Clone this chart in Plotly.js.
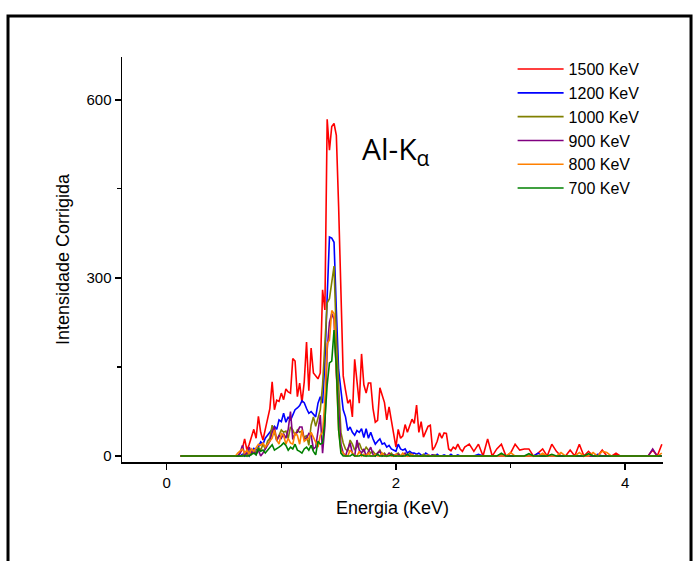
<!DOCTYPE html>
<html>
<head>
<meta charset="utf-8">
<script src="https://cdn.plot.ly/plotly-3.0.1.min.js"></script>
<style>html,body{margin:0;padding:0;background:#fff;}#chart{width:693px;height:561px;}</style>
</head>
<body>
<div id="chart"></div>
<script>
// Energy channels (KeV)
const energy = [0.12,
  0.60,0.62,0.64,0.66,0.68,0.70,0.72,0.74,0.76,0.78,
  0.80,0.82,0.84,0.86,0.88,0.90,0.92,0.94,0.96,0.98,
  1.00,1.02,1.04,1.06,1.08,1.10,1.12,1.14,1.16,1.18,
  1.20,1.22,1.24,1.26,1.28,1.30,1.32,1.34,1.36,1.38,
  1.40,1.42,1.44,1.46,1.48,1.50,1.52,1.54,1.56,1.58,
  1.60,1.62,1.64,1.66,1.68,1.70,1.72,1.74,1.76,1.78,
  1.80,1.82,1.84,1.86,1.88,1.90,1.92,1.94,1.96,1.98,
  2.00,2.02,2.04,2.06,2.08,2.10,2.12,2.14,2.16,2.18,
  2.20,2.22,2.24,2.26,2.28,2.30,2.32,2.34,2.36,2.38,
  2.40,2.42,2.44,2.46,2.48,2.50,2.52,2.54,2.56,2.58,
  2.60,
  2.64,2.68,2.72,2.76,2.80,2.84,2.88,2.92,2.96,3.00,
  3.04,3.08,3.12,3.16,3.20,3.24,3.28,3.32,3.36,3.40,
  3.44,3.48,3.52,3.56,3.60,3.64,3.68,3.72,3.76,3.80,
  3.84,3.88,3.92,3.96,4.00,4.04,4.08,4.12,4.16,4.20,
  4.24,4.28,4.32];

const seriesNames = ["1500 KeV","1200 KeV","1000 KeV","900 KeV","800 KeV","700 KeV"];
const seriesColors = ["#ff0000","#0000ff","#808000","#800080","#ff8000","#008000"];

const kev1500 = [0,
  0,0,5,12,29,10,20,35,45,30,
  67,40,27,45,66,80,125,78,94,92,
  106,95,113,108,106,164,160,100,123,90,
  125,192,110,182,140,135,130,140,280,246,
  567,515,555,560,540,420,250,135,111,89,
  95,66,163,120,89,172,120,106,123,123,
  80,57,60,115,100,90,61,83,60,39,
  15,45,30,34,53,40,50,62,55,86,
  40,58,32,40,50,52,10,16,25,39,
  30,39,38,12,9,15,12,20,12,8,
  15,
  20,8,20,0,29,0,12,20,0,5,
  20,10,12,12,0,5,12,0,20,8,
  0,0,10,0,20,0,8,0,0,10,
  0,0,5,0,0,0,0,0,0,0,
  10,0,20];

const kev1200 = [0,
  0,0,0,3,0,5,0,8,13,10,
  15,24,20,30,35,40,44,50,45,61,
  58,72,57,66,60,70,78,81,85,93,
  90,80,72,75,70,66,89,100,89,157,
  268,369,367,360,246,145,111,78,66,43,
  49,40,35,43,40,46,31,46,30,40,
  29,20,25,29,20,22,15,18,12,10,
  8,20,12,10,12,5,8,5,5,3,
  5,2,0,5,3,0,2,0,3,0,
  0,2,0,0,3,0,0,2,0,0,
  0,
  0,0,3,0,0,0,0,0,0,0,
  0,0,0,0,0,5,0,0,0,0,
  0,0,0,0,0,0,0,0,3,0,
  0,0,0,0,0,0,0,0,0,0,
  0,0,0];

const kev1000 = [0,
  0,0,0,0,5,0,8,3,10,5,
  15,10,20,12,25,30,52,38,27,35,
  44,40,42,30,49,44,35,44,40,42,
  30,35,18,52,66,50,64,78,120,190,
  258,265,292,320,200,106,40,22,12,8,
  27,20,10,15,22,12,8,15,10,5,
  8,3,5,10,2,5,0,3,5,0,
  2,5,0,0,3,0,5,0,0,2,
  0,0,3,0,0,0,0,2,0,0,
  0,0,0,0,0,0,0,0,0,0,
  0,
  0,0,0,0,0,0,0,3,0,0,
  0,0,0,0,0,0,0,0,0,0,
  0,0,0,0,0,0,0,0,0,0,
  0,0,0,0,0,0,0,0,0,0,
  0,0,0];

const kev900 = [0,
  0,0,5,18,3,5,15,5,8,3,
  10,0,5,12,20,25,40,49,25,35,
  30,38,30,45,75,28,38,40,49,49,
  28,30,38,35,12,15,42,69,5,50,
  179,225,240,230,140,80,20,5,0,12,
  22,5,0,27,10,5,12,0,8,15,
  3,0,5,8,0,3,0,5,0,2,
  0,3,0,0,5,0,0,3,0,0,
  0,0,0,0,0,0,2,0,0,0,
  0,0,0,0,0,0,0,0,0,0,
  0,
  0,0,0,0,0,0,0,0,0,0,
  0,0,0,0,0,0,0,0,0,0,
  0,0,0,0,0,0,0,0,0,0,
  0,0,0,0,0,0,0,0,0,0,
  12,0,0];

const kev800 = [0,
  0,5,8,12,5,10,3,12,8,15,
  20,18,22,15,20,25,30,44,27,20,
  38,35,20,30,22,20,38,35,20,44,
  25,28,30,40,32,25,15,35,40,94,
  190,195,245,240,128,44,10,5,0,0,
  10,5,0,0,8,0,3,0,5,0,
  0,3,0,0,5,0,0,2,0,0,
  3,0,0,5,0,0,0,3,0,0,
  0,0,0,0,2,0,0,0,0,0,
  0,0,0,0,0,0,0,0,0,0,
  0,
  0,0,0,0,0,0,0,0,0,6,
  0,0,0,0,0,0,5,0,0,0,
  6,0,0,0,6,0,0,6,0,8,
  6,0,0,0,0,0,0,0,0,0,
  0,0,5];

const kev700 = [0,
  0,0,0,0,0,0,0,3,5,2,
  12,8,10,5,10,15,19,10,12,15,
  18,22,18,10,15,12,20,10,8,5,
  12,15,10,18,8,2,25,20,22,60,
  120,157,160,212,150,44,5,0,0,0,
  0,3,0,0,0,2,0,0,0,0,
  0,0,3,0,0,0,0,0,2,0,
  0,0,0,0,0,3,0,0,0,0,
  0,0,0,0,0,0,0,0,0,0,
  0,0,0,0,0,0,0,0,0,0,
  0,
  0,0,0,0,0,0,0,5,0,0,
  0,0,0,4,0,0,0,0,3,0,
  0,0,0,0,0,0,4,0,0,0,
  0,0,0,0,0,0,0,0,0,0,
  0,0,0];

const seriesValues = [kev1500, kev1200, kev1000, kev900, kev800, kev700];

const traces = seriesValues.map((vals, i) => ({
  x: energy, y: vals, type: 'scatter', mode: 'lines',
  name: seriesNames[i],
  line: {color: seriesColors[i], width: 1.6}
}));

const font = {family: 'Liberation Sans, Arial, sans-serif', color: '#000'};

const layout = {
  width: 693, height: 561,
  margin: {l: 122, r: 30, t: 57, b: 99},
  paper_bgcolor: '#fff', plot_bgcolor: '#fff',
  showlegend: true,
  font: font,
  xaxis: {
    range: [-0.39, 4.33], showgrid: false, zeroline: false,
    showline: true, linecolor: '#000', linewidth: 1.5,
    ticks: 'outside', ticklen: 6, tickwidth: 1.5, tickcolor: '#000',
    tick0: 0, dtick: 2,
    minor: {ticks: 'outside', ticklen: 4, tickwidth: 1.2, tickcolor: '#000', dtick: 1},
    tickfont: {size: 15, family: font.family, color: '#000'},
    title: {text: 'Energia (KeV)', font: {size: 18, family: font.family, color: '#000'}, standoff: 12}
  },
  yaxis: {
    range: [-10, 672], showgrid: false, zeroline: false,
    showline: true, linecolor: '#000', linewidth: 1.5,
    ticks: 'outside', ticklen: 6, tickwidth: 1.5, tickcolor: '#000',
    tick0: 0, dtick: 300,
    minor: {ticks: 'outside', ticklen: 4, tickwidth: 1.2, tickcolor: '#000', dtick: 150},
    tickfont: {size: 15, family: font.family, color: '#000'},
    title: {text: 'Intensidade Corrigida', font: {size: 18, family: font.family, color: '#000'}, standoff: 12}
  },
  legend: {
    x: 0.722, xanchor: 'left', y: 1.012, yanchor: 'top',
    itemwidth: 46,
    bgcolor: 'rgba(0,0,0,0)', borderwidth: 0,
    font: {size: 16, family: font.family, color: '#000'}
  },
  annotations: [{
    xref: 'x', yref: 'y', x: 2.0, y: 516,
    text: 'Al-K<sub>α</sub>', showarrow: false,
    font: {size: 30, family: 'Open Sans, Noto Sans, sans-serif', color: '#000'}
  }],
  shapes: [{
    type: 'rect', xref: 'paper', yref: 'paper',
    x0: -0.2107, x1: 1.0518, y0: -0.3, y1: 1.1012,
    line: {color: '#000', width: 3}, fillcolor: 'rgba(0,0,0,0)', layer: 'above'
  }]
};

Plotly.newPlot('chart', traces, layout, {displayModeBar: false, staticPlot: true});
</script>
</body>
</html>
